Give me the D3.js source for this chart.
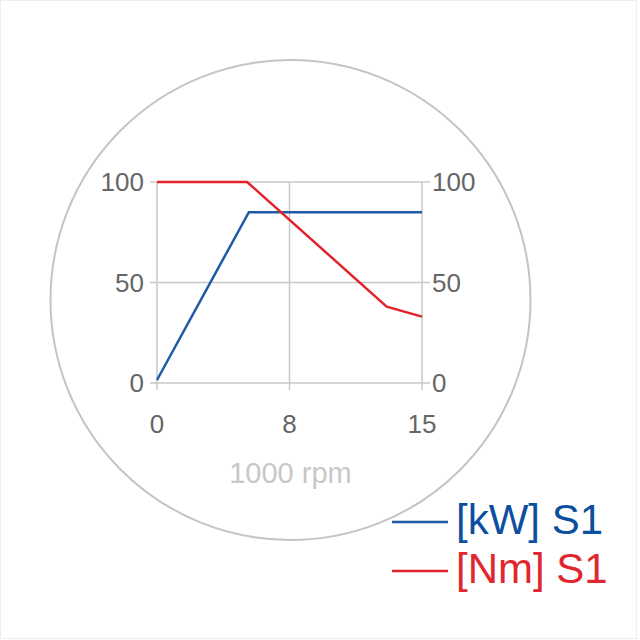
<!DOCTYPE html>
<html><head><meta charset="utf-8">
<script src="https://cdn.jsdelivr.net/npm/d3@7"></script>
<style>html,body{margin:0;padding:0;background:#fff;}svg{display:block;font-family:"Liberation Sans",Arial,sans-serif;}</style>
</head><body>
<script>
// Data
const kwRpm = [0, 5.2, 15];
const kwValues = [1.5, 85, 85];
const nmRpm = [0, 5.1, 13, 15];
const nmValues = [100, 100, 38, 33];
const xTickValues = [0, 7.5, 15];
const xTickLabels = ["0", "8", "15"];
const yTickValues = [0, 50, 100];
const seriesNames = ["[kW] S1", "[Nm] S1"];
const xTitle = "1000 rpm";

const W = 640, H = 640;
const svg = d3.select("body").append("svg").attr("width", W).attr("height", H);
svg.append("rect").attr("x",0.5).attr("y",0.5).attr("width",636).attr("height",638).attr("fill","#fff").attr("stroke","#eeeeee");

svg.append("circle").attr("cx",290.5).attr("cy",300).attr("r",240)
  .attr("fill","none").attr("stroke","#c4c4c4").attr("stroke-width",2);

const x = d3.scaleLinear().domain([0,15]).range([157,422]);
const y = d3.scaleLinear().domain([0,100]).range([383,182]);
const grid = "#c8c8c8";

const g = svg.append("g");
g.selectAll("line.h").data(yTickValues).join("line")
  .attr("x1", x(0)-7).attr("x2", x(15)+8).attr("y1", d=>y(d)).attr("y2", d=>y(d))
  .attr("stroke", grid).attr("stroke-width",1.5);
g.selectAll("line.v").data(xTickValues).join("line")
  .attr("x1", d=>x(d)).attr("x2", d=>x(d)).attr("y1", y(100)).attr("y2", y(0)+7)
  .attr("stroke", grid).attr("stroke-width",1.5);

const tickColor = "#666666";
g.selectAll("text.yl").data(yTickValues).join("text")
  .attr("x", x(0)-13).attr("y", d=>y(d)).attr("dy","0.36em")
  .attr("text-anchor","end").attr("font-size",26).attr("fill",tickColor).text(d=>d);
g.selectAll("text.yr").data(yTickValues).join("text")
  .attr("x", x(15)+10).attr("y", d=>y(d)).attr("dy","0.36em")
  .attr("text-anchor","start").attr("font-size",26).attr("fill",tickColor).text(d=>d);
g.selectAll("text.xl").data(xTickValues).join("text")
  .attr("x", d=>x(d)).attr("y", 433)
  .attr("text-anchor","middle").attr("font-size",26).attr("fill",tickColor).text((d,i)=>xTickLabels[i]);

svg.append("text").attr("x",290.5).attr("y",483).attr("text-anchor","middle")
  .attr("font-size",29).attr("fill","#c8c8c8").text(xTitle);

const line = d3.line().x(d=>x(d[0])).y(d=>y(d[1]));
const blue = "#1f5aa6", red = "#e3232b";
svg.append("path").datum(kwRpm.map((r,i)=>[r,kwValues[i]])).attr("d",line)
  .attr("fill","none").attr("stroke",blue).attr("stroke-width",2.5);
svg.append("path").datum(nmRpm.map((r,i)=>[r,nmValues[i]])).attr("d",line)
  .attr("fill","none").attr("stroke",red).attr("stroke-width",2.5);

const legColors = [blue, red];
const legText = ["#0c4fa0", "#e0262e"];
const leg = svg.append("g");
seriesNames.forEach((n,i)=>{
  const yy = 522 + i*49;
  leg.append("line").attr("x1",392).attr("x2",448).attr("y1",yy).attr("y2",yy)
    .attr("stroke",legColors[i]).attr("stroke-width",2.5);
  leg.append("text").attr("x",456).attr("y",yy+12).attr("font-size",42)
    .attr("fill",legText[i]).text(n);
});
</script>
</body></html>
